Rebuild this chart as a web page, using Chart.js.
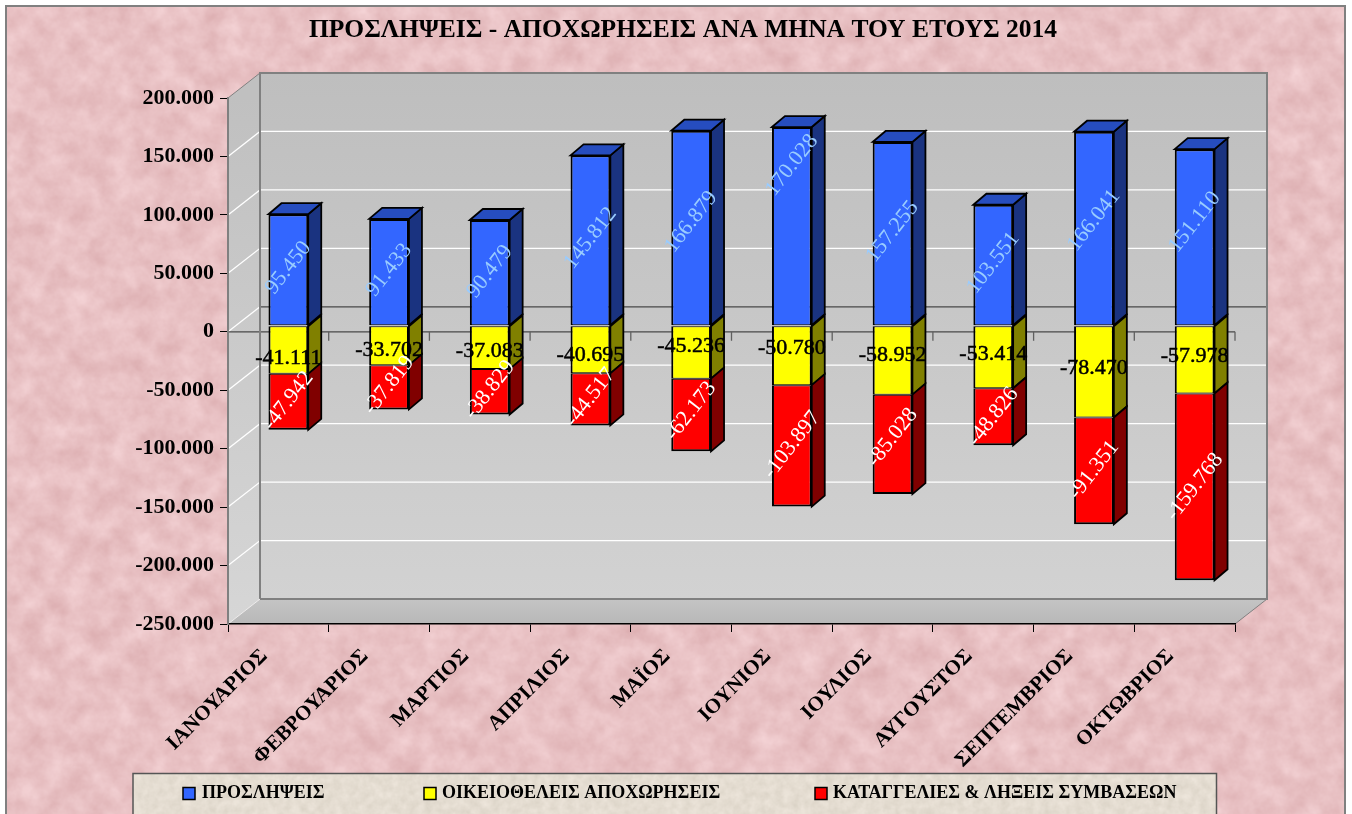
<!DOCTYPE html>
<html lang="el">
<head>
<meta charset="utf-8">
<title>Προσλήψεις - Αποχωρήσεις 2014</title>
<style>
html,body{margin:0;padding:0;background:#fff;width:1352px;height:814px;overflow:hidden}
#bg{position:absolute;left:0;top:0}
#c{position:absolute;left:0;top:0}
</style>
<script src="https://cdn.jsdelivr.net/npm/chart.js@4"></script>
</head>
<body>
<svg id="bg" width="1352" height="814" xmlns="http://www.w3.org/2000/svg">
  <defs>
    <filter id="pink" x="0" y="0" width="100%" height="100%" color-interpolation-filters="sRGB">
      <feTurbulence type="fractalNoise" baseFrequency="0.045" numOctaves="4" seed="7"/>
      <feColorMatrix type="matrix" values="0.11 0 0 0 0.855  0.17 0 0 0 0.67  0.17 0 0 0 0.68  0 0 0 0 1"/>
    </filter>
    <filter id="beige" x="0" y="0" width="100%" height="100%" color-interpolation-filters="sRGB">
      <feTurbulence type="fractalNoise" baseFrequency="0.12" numOctaves="3" seed="4"/>
      <feColorMatrix type="matrix" values="0.09 0 0 0 0.85  0.09 0 0 0 0.82  0.10 0 0 0 0.77  0 0 0 0 1"/>
    </filter>
  </defs>
  <rect x="6" y="6" width="1339" height="830" filter="url(#pink)"/>
  <rect x="6" y="6" width="1339" height="830" fill="none" stroke="#808080" stroke-width="2"/>
  <rect x="133" y="773" width="1084" height="60" filter="url(#beige)"/>
  <path d="M133 834V773.5H1216.5V834" fill="none" stroke="#555" stroke-width="1.5"/>
</svg>
<canvas id="c" width="1352" height="814"></canvas>
<script>
const months = ["ΙΑΝΟΥΑΡΙΟΣ","ΦΕΒΡΟΥΑΡΙΟΣ","ΜΑΡΤΙΟΣ","ΑΠΡΙΛΙΟΣ","ΜΑΪΟΣ","ΙΟΥΝΙΟΣ","ΙΟΥΛΙΟΣ","ΑΥΓΟΥΣΤΟΣ","ΣΕΠΤΕΜΒΡΙΟΣ","ΟΚΤΩΒΡΙΟΣ"];
const hires = [95450,91433,90479,145812,166879,170028,157255,103551,166041,151110];
const voluntary = [-41111,-33702,-37083,-40695,-45236,-50780,-58952,-53414,-78470,-57978];
const terminations = [-47942,-37819,-38829,-44517,-62173,-103897,-85028,-48826,-91351,-159768];
const seriesNames = ["ΠΡΟΣΛΗΨΕΙΣ","ΟΙΚΕΙΟΘΕΛΕΙΣ ΑΠΟΧΩΡΗΣΕΙΣ","ΚΑΤΑΓΓΕΛΙΕΣ & ΛΗΞΕΙΣ ΣΥΜΒΑΣΕΩΝ"];
const chartTitle = "ΠΡΟΣΛΗΨΕΙΣ - ΑΠΟΧΩΡΗΣΕΙΣ ΑΝΑ ΜΗΝΑ ΤΟΥ ΕΤΟΥΣ 2014";

// Hand-placed label nudges of the original (vertical, px)
const hireLabelNudge = [-8,-8,-7,-8,-12,-67,-8,-8,-14,-21];
const voluntaryLabelNudge = [2,-2,-2,-1,-12,-13,-11,-9,-10,-10];
const terminationLabelNudge = [-7,-8,-8,-8,-10,-7,-13,-6,-7,-6];

const FACE = {x:10, y:-6};           // bar front relative to the axis plane
const BAR_DEPTH = {x:13, y:-11};     // bar side depth
const WALL = {x:32, y:-25};          // back wall relative to the axis plane
const SERIF = '"Liberation Serif","Times New Roman",serif';
const sideColors = ["#1a3380","#808000","#800000"];
const faceColors = ["#3366ff","#ffff00","#ff0000"];
const labelColors = ["#99ccff","#000000","#ffffff"];

const fmt = v => {
  const s = Math.abs(v).toString().replace(/\B(?=(\d{3})+(?!\d))/g, ".");
  return (v < 0 ? "-" : "") + s;
};

const walls = {
  id: "walls",
  beforeDraw(chart) {
    const {ctx, chartArea: a, scales: {y, x}} = chart;
    const bx = a.left + WALL.x, bt = a.top + WALL.y, br = a.right + WALL.x, bb = a.bottom + WALL.y;
    ctx.save();
    let g = ctx.createLinearGradient(0, bt, 0, bb);
    g.addColorStop(0, "#bebebe"); g.addColorStop(1, "#d2d2d2");
    ctx.fillStyle = g; ctx.fillRect(bx, bt, br - bx, bb - bt);
    g = ctx.createLinearGradient(0, a.top, 0, a.bottom);
    g.addColorStop(0, "#c0c0c0"); g.addColorStop(1, "#d6d6d6");
    ctx.fillStyle = g;
    ctx.beginPath(); ctx.moveTo(a.left, a.top); ctx.lineTo(bx, bt); ctx.lineTo(bx, bb); ctx.lineTo(a.left, a.bottom); ctx.closePath(); ctx.fill();
    g = ctx.createLinearGradient(0, bb, 0, a.bottom);
    g.addColorStop(0, "#c4c4c4"); g.addColorStop(1, "#b8b8b8");
    ctx.fillStyle = g;
    ctx.beginPath(); ctx.moveTo(a.left, a.bottom); ctx.lineTo(bx, bb); ctx.lineTo(br, bb); ctx.lineTo(a.right, a.bottom); ctx.closePath(); ctx.fill();

    // gridlines
    y.ticks.forEach(t => {
      const p = y.getPixelForValue(t.value);
      if (t.value === y.max || t.value === y.min) return;
      ctx.strokeStyle = "#ffffff"; ctx.lineWidth = 1.3;
      ctx.beginPath(); ctx.moveTo(a.left, p); ctx.lineTo(bx, p + WALL.y);
      if (t.value !== 0) ctx.lineTo(br, p + WALL.y);
      ctx.stroke();
    });
    // zero planes
    const z = y.getPixelForValue(0);
    ctx.strokeStyle = "#484848"; ctx.lineWidth = 1.3;
    ctx.beginPath(); ctx.moveTo(bx, z + WALL.y); ctx.lineTo(br, z + WALL.y); ctx.stroke();
    ctx.beginPath(); ctx.moveTo(a.left, z); ctx.lineTo(a.right, z); ctx.stroke();
    ctx.strokeStyle = "#606060"; ctx.lineWidth = 1.3;
    x.ticks.forEach((t, i) => {
      const l = a.left + (a.right - a.left) * (i + 1) / x.ticks.length;
      ctx.beginPath(); ctx.moveTo(l, z); ctx.lineTo(l, z + 9); ctx.stroke();
    });
    // wall edges
    ctx.strokeStyle = "#808080"; ctx.lineWidth = 2;
    ctx.beginPath(); ctx.moveTo(bx, bb); ctx.lineTo(bx, bt); ctx.lineTo(br, bt); ctx.lineTo(br, bb); ctx.lineTo(bx, bb); ctx.stroke();
    ctx.lineWidth = 1;
    ctx.beginPath(); ctx.moveTo(a.left, a.top); ctx.lineTo(bx, bt); ctx.stroke();
    ctx.beginPath(); ctx.moveTo(a.right, a.bottom); ctx.lineTo(br, bb); ctx.stroke();
    ctx.strokeStyle = "#ececec";
    ctx.beginPath(); ctx.moveTo(a.left, a.bottom); ctx.lineTo(bx, bb); ctx.stroke();
    ctx.restore();
  }
};

const bars3d = {
  id: "bars3d",
  beforeDatasetsDraw(chart) {
    const {ctx} = chart;
    ctx.save();
    ctx.translate(FACE.x, FACE.y);
    ctx.lineWidth = 1.8; ctx.strokeStyle = "#000"; ctx.lineJoin = "miter";
    chart.data.datasets.forEach((ds, di) => {
      chart.getDatasetMeta(di).data.forEach(el => {
        const r = el.x + el.width / 2, l = el.x - el.width / 2;
        const t = Math.min(el.y, el.base), b = Math.max(el.y, el.base);
        ctx.fillStyle = sideColors[di];
        ctx.beginPath();
        ctx.moveTo(r, t); ctx.lineTo(r + BAR_DEPTH.x, t + BAR_DEPTH.y);
        ctx.lineTo(r + BAR_DEPTH.x, b + BAR_DEPTH.y); ctx.lineTo(r, b); ctx.closePath();
        ctx.fill(); ctx.stroke();
        if (di === 0) {
          ctx.fillStyle = "#264dbf";
          ctx.beginPath();
          ctx.moveTo(l, t); ctx.lineTo(l + BAR_DEPTH.x, t + BAR_DEPTH.y);
          ctx.lineTo(r + BAR_DEPTH.x, t + BAR_DEPTH.y); ctx.lineTo(r, t); ctx.closePath();
          ctx.fill(); ctx.stroke();
        }
      });
    });
  },
  afterDatasetsDraw(chart) {
    const {ctx} = chart;
    ctx.restore();
    // value labels
    const nudges = [hireLabelNudge, voluntaryLabelNudge, terminationLabelNudge];
    ctx.save();
    ctx.font = "22px " + SERIF;
    ctx.textAlign = "center"; ctx.textBaseline = "middle";
    chart.data.datasets.forEach((ds, di) => {
      chart.getDatasetMeta(di).data.forEach((el, i) => {
        const cx = el.x + FACE.x, cy = (el.y + el.base) / 2 + nudges[di][i];
        ctx.save();
        ctx.translate(cx, cy);
        if (di !== 1) ctx.rotate(-52 * Math.PI / 180);
        ctx.fillStyle = labelColors[di];
        ctx.fillText(fmt(ds.data[i]), 0, 0);
        if (di === 1) { ctx.strokeStyle = "#000"; ctx.lineWidth = 0.5; ctx.strokeText(fmt(ds.data[i]), 0, 0); }
        ctx.restore();
      });
    });
    // legend entries
    const items = [{mx:183, tx:202}, {mx:424, tx:442}, {mx:815, tx:833}];
    ctx.font = "bold 18px " + SERIF;
    ctx.textAlign = "left"; ctx.textBaseline = "alphabetic";
    chart.data.datasets.forEach((ds, di) => {
      const it = items[di];
      ctx.fillStyle = faceColors[di]; ctx.strokeStyle = "#000"; ctx.lineWidth = 1.5;
      ctx.fillRect(it.mx, 787.5, 12, 12); ctx.strokeRect(it.mx, 787.5, 12, 12);
      ctx.fillStyle = "#000";
      ctx.fillText(ds.label, it.tx, 798);
    });
    ctx.restore();
  }
};

new Chart(document.getElementById("c"), {
  type: "bar",
  data: {
    labels: months,
    datasets: [
      {label: seriesNames[0], data: hires, backgroundColor: faceColors[0], borderWidth: {top: 2, bottom: 1, left: 2, right: 2}},
      {label: seriesNames[1], data: voluntary, backgroundColor: faceColors[1], borderWidth: {top: 1, bottom: 1, left: 2, right: 2}},
      {label: seriesNames[2], data: terminations, backgroundColor: faceColors[2], borderWidth: {top: 1, bottom: 2, left: 2, right: 2}}
    ]
  },
  options: {
    responsive: false,
    animation: false,
    layout: {padding: {left: 131, right: 117, top: 0, bottom: 0}},
    datasets: {bar: {categoryPercentage: 1, barPercentage: 0.395, borderColor: "#000", borderSkipped: false}},
    plugins: {
      legend: {display: false},
      tooltip: {enabled: false},
      title: {
        display: true, text: chartTitle, color: "#000",
        font: {family: SERIF, size: 25.5, weight: "bold", lineHeight: 1.2},
        padding: {top: 15, bottom: 52.4}
      }
    },
    scales: {
      x: {
        stacked: true,
        afterFit(s) { s.height = 190; },
        grid: {drawOnChartArea: false, tickLength: 8, color: "#000", tickColor: "#000"},
        border: {display: true, color: "#000", width: 1.5},
        ticks: {
          autoSkip: false, minRotation: 45, maxRotation: 45, padding: 12, labelOffset: -14,
          color: "#000", font: {family: SERIF, size: 21, weight: "bold"}
        }
      },
      y: {
        stacked: true, min: -250000, max: 200000,
        afterFit(s) { s.width = 97; },
        grid: {drawOnChartArea: false, tickLength: 8, tickColor: "#000", color: "#000"},
        border: {display: true, color: "#808080", width: 2},
        ticks: {
          stepSize: 50000, padding: 6, color: "#000",
          font: {family: SERIF, size: 22, weight: "bold"},
          callback: v => fmt(v)
        }
      }
    }
  },
  plugins: [walls, bars3d]
});
</script>
</body>
</html>
